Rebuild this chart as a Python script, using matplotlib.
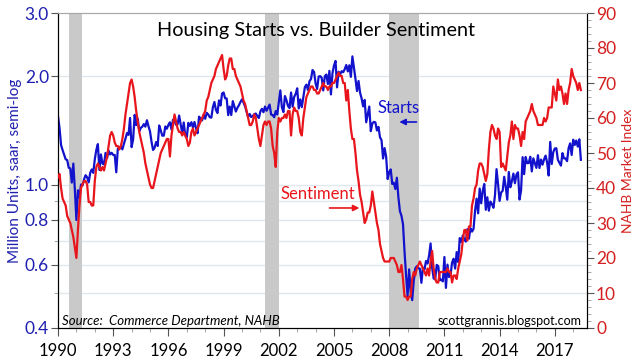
import numpy as np
import matplotlib
matplotlib.use("Agg")
import matplotlib.pyplot as plt
from matplotlib.ticker import FixedLocator, NullLocator, MultipleLocator, FixedFormatter

plt.rcParams['font.family'] = ['Lato', 'DejaVu Sans']

# ---------------- data (monthly, Jan 1990 - Jun 2018) ----------------
# Housing starts, thousands of units, SAAR
starts_1990s = [
    1551, 1437, 1289, 1248, 1212, 1177, 1171, 1115, 1110, 1014, 1145, 969,
    798, 965, 921, 1001, 996, 1036, 1063, 1049, 1015, 1079, 1103, 1079,
    1176, 1250, 1297, 1099, 1214, 1145, 1139, 1226, 1186, 1244, 1214, 1227,
    1210, 1210, 1083, 1258, 1260, 1280, 1254, 1300, 1343, 1392, 1376, 1533,
    1272, 1337, 1564, 1465, 1526, 1409, 1439, 1450, 1474, 1450, 1511, 1455,
    1407, 1316, 1249, 1267, 1314, 1281, 1461, 1416, 1369, 1369, 1452, 1431,
    1467, 1491, 1424, 1516, 1504, 1467, 1472, 1557, 1475, 1392, 1489, 1370,
    1355, 1486, 1457, 1492, 1442, 1494, 1437, 1390, 1546, 1520, 1510, 1566,
    1525, 1584, 1567, 1540, 1536, 1641, 1698, 1614, 1582, 1715, 1660, 1792,
    1804, 1738, 1737, 1561, 1649, 1562, 1707, 1651, 1597, 1636, 1663, 1698]
starts_2000s = [
    1727, 1692, 1651, 1597, 1543, 1572, 1542, 1552, 1570, 1577, 1551, 1532,
    1600, 1625, 1590, 1649, 1605, 1636, 1670, 1567, 1562, 1540, 1602, 1568,
    1698, 1829, 1642, 1592, 1764, 1717, 1655, 1633, 1804, 1648, 1753, 1788,
    1853, 1629, 1726, 1643, 1751, 1867, 1897, 1833, 1939, 1967, 2083, 2057,
    1911, 1846, 1998, 2003, 1981, 1828, 2002, 2024, 1905, 2072, 1782, 2042,
    2144, 2207, 1864, 2061, 2025, 2068, 2054, 2095, 2151, 2065, 2147, 1994,
    2273, 2119, 1969, 1821, 1942, 1802, 1737, 1650, 1720, 1491, 1570, 1649,
    1409, 1480, 1495, 1490, 1415, 1448, 1354, 1330, 1183, 1264, 1197, 1037,
    1084, 1103, 1005, 1013, 973, 1046, 923, 844, 820, 777, 652, 560,
    490, 582, 505, 478, 540, 585, 594, 586, 585, 534, 588, 581]
starts_2010s = [
    614, 604, 636, 687, 588, 549, 546, 599, 594, 543, 545, 539,
    630, 517, 600, 554, 561, 608, 623, 585, 650, 610, 711, 694,
    723, 704, 695, 753, 708, 757, 741, 754, 847, 915, 833, 976,
    888, 962, 1005, 852, 923, 847, 898, 883, 863, 936, 1105, 1003,
    902, 952, 962, 1052, 987, 909, 1085, 984, 1023, 1074, 1010, 1067,
    1083, 910, 964, 1193, 1070, 1194, 1148, 1149, 1196, 1089, 1184, 1148,
    1114, 1208, 1113, 1175, 1137, 1176, 1205, 1152, 1061, 1315, 1142, 1232,
    1261, 1263, 1173, 1152, 1130, 1224, 1184, 1183, 1163, 1264, 1303, 1210,
    1334, 1290, 1327, 1276, 1337, 1173]

# NAHB housing market index
hmi_1990s = [
    43, 44, 40, 37, 36, 35, 32, 31, 30, 28, 26, 23,
    20, 28, 35, 40, 41, 42, 42, 41, 36, 36, 35, 35,
    42, 46, 47, 46, 45, 46, 45, 47, 49, 52, 55, 56,
    55, 53, 52, 52, 51, 52, 54, 57, 61, 64, 67, 70,
    71, 69, 66, 62, 59, 56, 54, 52, 50, 47, 45, 43,
    41, 40, 40, 42, 44, 46, 48, 50, 51, 52, 53, 54,
    54, 49, 55, 58, 61, 59, 57, 56, 56, 55, 56, 55,
    54, 52, 53, 56, 57, 55, 56, 57, 58, 59, 60, 61,
    62, 65, 66, 68, 70, 71, 72, 74, 75, 76, 77, 78,
    74, 71, 72, 75, 77, 77, 74, 74, 72, 71, 70, 69]
hmi_2000s = [
    67, 65, 64, 62, 60, 58, 58, 59, 61, 60, 57, 54,
    52, 55, 58, 59, 58, 59, 59, 57, 52, 50, 46, 56,
    60, 59, 60, 60, 61, 60, 62, 62, 55, 61, 63, 62,
    62, 60, 56, 55, 60, 63, 66, 67, 68, 69, 69, 68,
    68, 67, 67, 68, 69, 70, 69, 69, 68, 69, 69, 70,
    70, 71, 72, 73, 72, 72, 70, 70, 65, 68, 62, 57,
    54, 54, 50, 45, 42, 38, 36, 33, 30, 31, 33, 33,
    35, 39, 36, 33, 30, 28, 24, 22, 20, 19, 19, 19,
    19, 20, 20, 20, 19, 18, 16, 16, 18, 14, 9, 9,
    8, 9, 9, 14, 16, 15, 17, 18, 19, 18, 17, 16]
hmi_2010s = [
    15, 17, 15, 19, 22, 17, 14, 13, 13, 16, 16, 16,
    16, 16, 17, 16, 16, 13, 15, 15, 14, 17, 19, 21,
    25, 28, 28, 25, 29, 29, 35, 37, 40, 41, 45, 47,
    47, 46, 44, 42, 44, 51, 56, 58, 57, 55, 54, 57,
    56, 46, 47, 46, 45, 49, 53, 55, 59, 54, 58, 57,
    57, 55, 52, 56, 54, 59, 60, 61, 62, 64, 62, 61,
    60, 58, 58, 58, 58, 60, 59, 60, 63, 63, 63, 69,
    67, 65, 71, 68, 69, 67, 64, 67, 64, 68, 70, 74,
    72, 71, 70, 68, 70, 68]

rec_start = [1990.58, 2001.25, 2008.0]
rec_end = [1991.33, 2002.0, 2009.6]

year_ticks = list(range(1990, 2018, 3))
left_ticks = [0.4, 0.6, 0.8, 1.0, 2.0, 3.0]
left_labels = ["0.4", "0.6", "0.8", "1.0", "2.0", "3.0"]
left_minor = [0.5, 0.7, 0.9]
grid_vals = [0.5, 0.6, 0.7, 0.8, 0.9, 1.0, 2.0]

starts = np.array(starts_1990s + starts_2000s + starts_2010s) / 1000.0
hmi = np.array(hmi_1990s + hmi_2000s + hmi_2010s, dtype=float)
t = 1990 + np.arange(len(starts)) / 12.0
t2 = 1990 + np.arange(len(hmi)) / 12.0

BLUE = '#1212cc'
RED = '#e8161c'

fig = plt.figure(figsize=(6.4, 3.63), dpi=100)
ax = fig.add_axes([58/640, 35/363, 529/640, 315/363])
ax.set_yscale('log')
ax.set_ylim(0.4, 3.0)
ax.set_xlim(1990, 2018.75)

for g in grid_vals:
    ax.axhline(g, color='#dfe7ed', lw=1.0, zorder=0)
for s, e in zip(rec_start, rec_end):
    ax.axvspan(s, e, color='#c9c9c9', lw=0, zorder=1)

ax.plot(t, starts, color=BLUE, lw=1.6, zorder=4)

ax.yaxis.set_major_locator(FixedLocator(left_ticks))
ax.yaxis.set_major_formatter(FixedFormatter(left_labels))
ax.yaxis.set_minor_locator(FixedLocator(left_minor))
ax.yaxis.set_minor_formatter(FixedFormatter([""] * 3))
ax.tick_params(axis='y', which='major', labelsize=12.5, colors='#555555',
               labelcolor='#2020b0', length=5, pad=1.5, direction='out')
ax.tick_params(axis='y', which='minor', length=3, color='#999999', direction='out')
ax.set_ylabel("Million Units, saar, semi-log", color='#2020b0', fontsize=11, labelpad=2)

ax.xaxis.set_major_locator(FixedLocator(year_ticks))
ax.xaxis.set_minor_locator(MultipleLocator(1))
ax.tick_params(axis='x', which='major', labelsize=12, length=6, pad=5, color='#555555')
ax.tick_params(axis='x', which='minor', length=3, color='#999999')

ax2 = ax.twinx()
ax2.set_ylim(0, 90)
ax2.plot(t2, hmi, color=RED, lw=1.6, zorder=3)
ax2.yaxis.set_major_locator(MultipleLocator(10))
ax2.yaxis.set_minor_locator(MultipleLocator(2))
ax2.tick_params(axis='y', which='major', labelsize=12.5, labelcolor='#d42020',
                color='#555555', length=5, pad=1.5)
ax2.tick_params(axis='y', which='minor', length=3, color='#999999')
ax2.set_ylabel("NAHB Market Index", color='#d42020', fontsize=10, labelpad=4)

for a in (ax, ax2):
    a.spines['top'].set_color('#a8a8a8')
    a.spines['left'].set_color('black')
    a.spines['bottom'].set_color('black')
    a.spines['right'].set_color('black')

ax2.text(0.488, 0.943, "Housing Starts vs. Builder Sentiment", transform=ax.transAxes,
         ha='center', va='center', fontsize=14.3, color='black', zorder=6)
ax2.text(0.643, 0.698, "Starts", transform=ax.transAxes, ha='center', va='center',
         fontsize=12, color=BLUE, zorder=6)
ax2.annotate("", xy=(0.640, 0.654), xytext=(0.683, 0.654), xycoords=ax.transAxes,
             arrowprops=dict(arrowstyle='-|>', color=BLUE, lw=1.2, mutation_scale=9),
             zorder=6)
ax2.text(0.4905, 0.425, "Sentiment", transform=ax.transAxes, ha='center', va='center',
         fontsize=12, color=RED, zorder=6)
ax2.annotate("", xy=(0.575, 0.381), xytext=(0.508, 0.381), xycoords=ax.transAxes,
             arrowprops=dict(arrowstyle='-|>', color=RED, lw=1.2, mutation_scale=9),
             zorder=6)
ax2.text(0.008, 0.022, "Source:  Commerce Department, NAHB", transform=ax.transAxes,
         ha='left', va='center', fontsize=9.5, style='italic', color='black', zorder=6)
ax2.text(0.9905, 0.022, "scottgrannis.blogspot.com", transform=ax.transAxes,
         ha='right', va='center', fontsize=9, color='black', zorder=6)

fig.savefig("out.png", dpi=100)
